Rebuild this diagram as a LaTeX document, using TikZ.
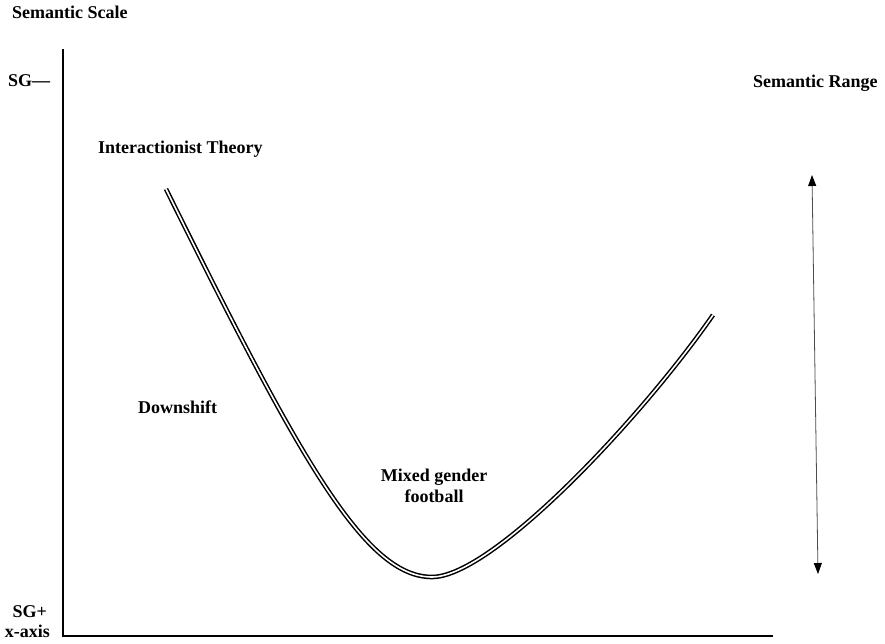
\documentclass[tikz,border=0pt]{standalone}
\usepackage{fontspec}
\setmainfont{Liberation Serif}
\usetikzlibrary{arrows.meta}
\tikzset{
  lbl/.style={font=\fontsize{18}{21}\selectfont\bfseries, inner sep=0pt, anchor=base west},
  axisline/.style={line width=1.8pt, line cap=rect},
  curveline/.style={double, line width=1.5pt, double distance=1.6pt},
  rangearrow/.style={line width=0.8pt, draw=black!70, {Triangle[length=11pt,width=8pt,fill=black,color=black]}-{Triangle[length=11pt,width=8pt,fill=black,color=black]}}
}
\begin{document}
\begin{tikzpicture}[x=1pt,y=-1pt]
\useasboundingbox[fill=white] (0,0) rectangle (885,644);
% axes
\coordinate (ytop) at (63,50);
\coordinate (origin) at (63,636);
\coordinate (xend) at (772,636);
\draw[axisline] (ytop) -- (origin) -- (xend);
% labels
\node[lbl] (scale) at (12,19) {Semantic Scale};
\node[lbl] (sgminus) at (8,87) {SG—};
\node[lbl] (rangelbl) at (753,88) {Semantic Range};
\node[lbl] (inter) at (98,154) {Interactionist Theory};
\node[lbl] (down) at (138,413) {Downshift};
\node[lbl, anchor=base, align=center] (mixed) at (434,502) {Mixed gender\\football};
\node[lbl, anchor=base east] (sgplus) at (47,617) {SG+};
\node[lbl, anchor=base east] (xaxis) at (50,637) {x-axis};
% curve
\coordinate (cstart) at (166,189);
\coordinate (cmin) at (432,577);
\coordinate (cend) at (713,315);
\draw[curveline] (cstart) .. controls (300,460) and (365,577) .. (cmin)
  .. controls (492,577) and (640,420) .. (cend);
% range arrow
\coordinate (rtop) at (812,175);
\coordinate (rbot) at (818,574);
\draw[rangearrow] (rbot) -- (rtop);
\end{tikzpicture}
\end{document}
